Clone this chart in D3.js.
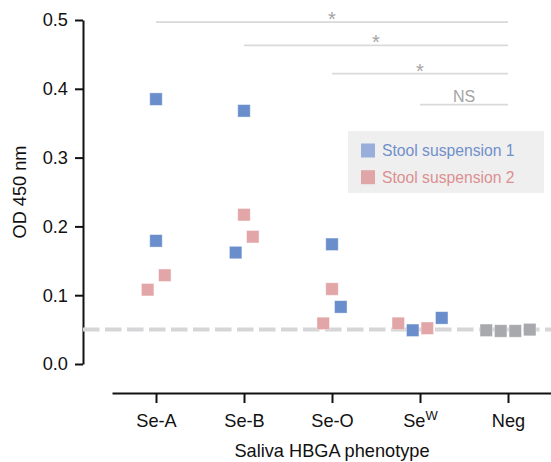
<!DOCTYPE html>
<html>
	<head>
		<title>OD 450 nm by saliva HBGA phenotype</title>
		<script src="https://d3js.org/d3.v7.min.js"></script>
		<style>
			body { margin: 0; background: #fff; }
			svg text { font-family: "Liberation Sans", Arial, Helvetica, sans-serif; }
		</style>
	</head>

	<body>
		<svg width="551" height="462"></svg>

		<script type="text/javascript">
			// categories on the x axis
			var categories = ["Se-A", "Se-B", "Se-O", "SeW", "Neg"];
			var yTicks = [0, 0.1, 0.2, 0.3, 0.4, 0.5];
			var cutoff = 0.05;

			// stool suspension 1 (blue)
			var susp1Cat = ["Se-A", "Se-A", "Se-B", "Se-B", "Se-O", "Se-O", "SeW", "SeW"];
			var susp1OD = [0.385, 0.179, 0.368, 0.162, 0.174, 0.083, 0.049, 0.067];
			var susp1Jit = [0, 0, 0, -0.095, 0, 0.1, -0.083, 0.247];

			// stool suspension 2 (pink)
			var susp2Cat = ["Se-A", "Se-A", "Se-B", "Se-B", "Se-O", "Se-O", "SeW", "SeW"];
			var susp2OD = [0.108, 0.129, 0.217, 0.185, 0.109, 0.059, 0.059, 0.052];
			var susp2Jit = [-0.095, 0.1, 0, 0.1, 0, -0.1, -0.247, 0.083];

			// negative saliva (grey)
			var negCat = ["Neg", "Neg", "Neg", "Neg"];
			var negOD = [0.049, 0.048, 0.048, 0.050];
			var negJit = [-0.247, -0.083, 0.083, 0.247];

			// significance brackets
			var sigFrom = ["Se-A", "Se-B", "Se-O", "SeW"];
			var sigTo = ["Neg", "Neg", "Neg", "Neg"];
			var sigLevel = [0.497, 0.463, 0.422, 0.377];
			var sigLabel = ["*", "*", "*", "NS"];

			var legendNames = ["Stool suspension 1", "Stool suspension 2"];

			var svg = d3.select("svg");
			var fs = "18.2px";

			var x = d3.scalePoint()
				.domain(categories)
				.range([112, 552])
				.padding(0.5);
			var y = d3.scaleLinear()
				.domain([0, 0.5])
				.range([364, 20]);
			var jitter = d3.scaleLinear()
				.domain([-0.5, 0.5])
				.range([-x.step() / 2, x.step() / 2]);

			// y axis
			var yAxis = svg.append("g")
				.attr("transform", "translate(83,0)")
				.call(d3.axisLeft(y)
					.tickValues(yTicks)
					.tickFormat(d3.format(".1f"))
					.tickSize(8)
					.tickSizeOuter(0)
					.tickPadding(7));
			yAxis.selectAll("path, line").attr("stroke", "#111").attr("stroke-width", 2);
			yAxis.selectAll("text").attr("font-size", fs).attr("fill", "#111");

			// x axis
			var xAxis = svg.append("g")
				.attr("transform", "translate(0,393)")
				.call(d3.axisBottom(x)
					.tickSize(10)
					.tickSizeOuter(0)
					.tickPadding(11));
			xAxis.selectAll("path, line").attr("stroke", "#111").attr("stroke-width", 2);
			xAxis.selectAll("text").attr("font-size", fs).attr("fill", "#111")
				.each(function(d) {
					if (d == "SeW") {
						var t = d3.select(this).text("Se");
						t.append("tspan").attr("dy", "-0.5em").attr("font-size", "13px").text("W");
					}
				});

			// axis titles
			svg.append("text")
				.attr("transform", "translate(26,192) rotate(-90)")
				.attr("text-anchor", "middle")
				.attr("font-size", fs)
				.attr("fill", "#111")
				.text("OD 450 nm");
			svg.append("text")
				.attr("x", 332)
				.attr("y", 457)
				.attr("text-anchor", "middle")
				.attr("font-size", fs)
				.attr("fill", "#111")
				.text("Saliva HBGA phenotype");

			// cutoff line
			svg.append("line")
				.attr("x1", 83).attr("x2", 551)
				.attr("y1", y(cutoff)).attr("y2", y(cutoff))
				.attr("stroke", "#d6d6d8")
				.attr("stroke-width", 4)
				.attr("stroke-dasharray", "16.5,5.5");

			// significance brackets
			var sig = sigFrom.map(function(f, i) {
				return {from: f, to: sigTo[i], level: sigLevel[i], label: sigLabel[i]};
			});
			svg.selectAll(".sigline")
				.data(sig)
				.enter().append("line")
				.attr("class", "sigline")
				.attr("x1", function(d) { return x(d.from); })
				.attr("x2", function(d) { return x(d.to); })
				.attr("y1", function(d) { return y(d.level); })
				.attr("y2", function(d) { return y(d.level); })
				.attr("stroke", "#d9d9d9")
				.attr("stroke-width", 1.8);
			svg.selectAll(".siglabel")
				.data(sig)
				.enter().append("text")
				.attr("class", "siglabel")
				.attr("text-anchor", "middle")
				.attr("x", function(d) { return (x(d.from) + x(d.to)) / 2; })
				.attr("y", function(d) { return y(d.level) + (d.label == "NS" ? -3 : 4); })
				.attr("font-size", function(d) { return d.label == "NS" ? "16px" : "20px"; })
				.attr("fill", "#a4a4a4")
				.text(function(d) { return d.label; });

			// points
			function points(cats, vals, jit) {
				return cats.map(function(c, i) { return {cat: c, od: vals[i], j: jit[i]}; });
			}
			var groups = [
				{pts: points(susp1Cat, susp1OD, susp1Jit), color: "#6a8ecb"},
				{pts: points(susp2Cat, susp2OD, susp2Jit), color: "#e2a6a8"},
				{pts: points(negCat, negOD, negJit), color: "#a8a9ad"}
			];
			var size = 12.5;
			groups.forEach(function(g) {
				svg.append("g").selectAll("rect")
					.data(g.pts)
					.enter().append("rect")
					.attr("x", function(d) { return x(d.cat) + jitter(d.j) - size / 2; })
					.attr("y", function(d) { return y(d.od) - size / 2; })
					.attr("width", size)
					.attr("height", size)
					.attr("fill", g.color)
					.attr("stroke", "#fff")
					.attr("stroke-opacity", 0.5)
					.attr("stroke-width", 0.8);
			});

			// legend
			var legendSwatch = ["#9aaedb", "#e0a6a7"];
			var legendText = ["#6f90cb", "#dc8f91"];
			var legend = svg.append("g");
			legend.append("rect")
				.attr("x", 348).attr("y", 131)
				.attr("width", 196).attr("height", 62)
				.attr("fill", "#efefef");
			var li = legend.selectAll(".item")
				.data(legendNames)
				.enter().append("g")
				.attr("class", "item")
				.attr("transform", function(d, i) { return "translate(361," + (143.5 + i * 26.7) + ")"; });
			li.append("rect")
				.attr("width", 14).attr("height", 14)
				.attr("fill", function(d, i) { return legendSwatch[i]; });
			li.append("text")
				.attr("x", 21).attr("y", 12.3)
				.attr("font-size", "15.7px")
				.attr("fill", function(d, i) { return legendText[i]; })
				.text(function(d) { return d; });
		</script>
	</body>
</html>
